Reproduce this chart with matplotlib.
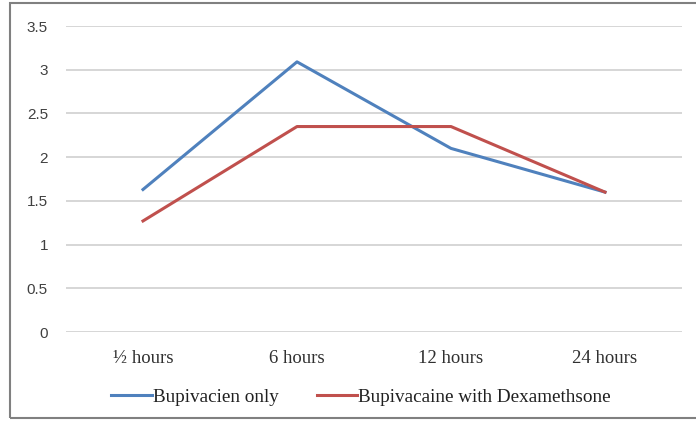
import matplotlib

matplotlib.use("Agg")
import matplotlib.pyplot as plt
from matplotlib.patches import Rectangle

categories = ["½ hours", "6 hours", "12 hours", "24 hours"]
bupi_only = [1.63, 3.09, 2.1, 1.6]
bupi_dexa = [1.27, 2.35, 2.35, 1.6]
yticks = [0, 0.5, 1, 1.5, 2, 2.5, 3, 3.5]

plt.rcParams["font.family"] = ["Liberation Serif", "DejaVu Serif"]

fig = plt.figure(figsize=(6.96, 4.21), dpi=100)
ax = fig.add_axes([66 / 696, 1 - 332 / 421, 616 / 696, 306 / 421])

x = range(len(categories))
ax.plot(x, bupi_only, color="#4F81BD", lw=2.2, label="Bupivacien only")
ax.plot(x, bupi_dexa, color="#C0504D", lw=2.2, label="Bupivacaine with Dexamethsone")

ax.set_xlim(-0.5, len(categories) - 0.5)
ax.set_ylim(0, 3.5)
ax.set_yticks(yticks)
ax.set_yticklabels([f"{v:g}" for v in yticks], family=["Liberation Sans"], fontsize=11, color="#404040")
ax.set_xticks(list(x))
ax.set_xticklabels(categories, fontsize=13.5, color="#303030")
ax.tick_params(axis="y", length=0, pad=13)
ax.tick_params(axis="x", length=0, pad=13)
ax.yaxis.grid(True, color="#D0D0D0", lw=1.2)
ax.set_axisbelow(True)
for s in ax.spines.values():
    s.set_visible(False)

fig.legend(loc="center", bbox_to_anchor=(361 / 696, 1 - 397 / 421), ncol=2, frameon=False,
           fontsize=13.8, handlelength=2.1, columnspacing=2.0, handletextpad=0.05,
           labelcolor="#202020")

fig.add_artist(Rectangle((10 / 696, 3 / 421), 700 / 696, 415 / 421, transform=fig.transFigure,
                         fill=False, edgecolor="#808080", lw=1.5))

fig.savefig("out.png", dpi=100)
